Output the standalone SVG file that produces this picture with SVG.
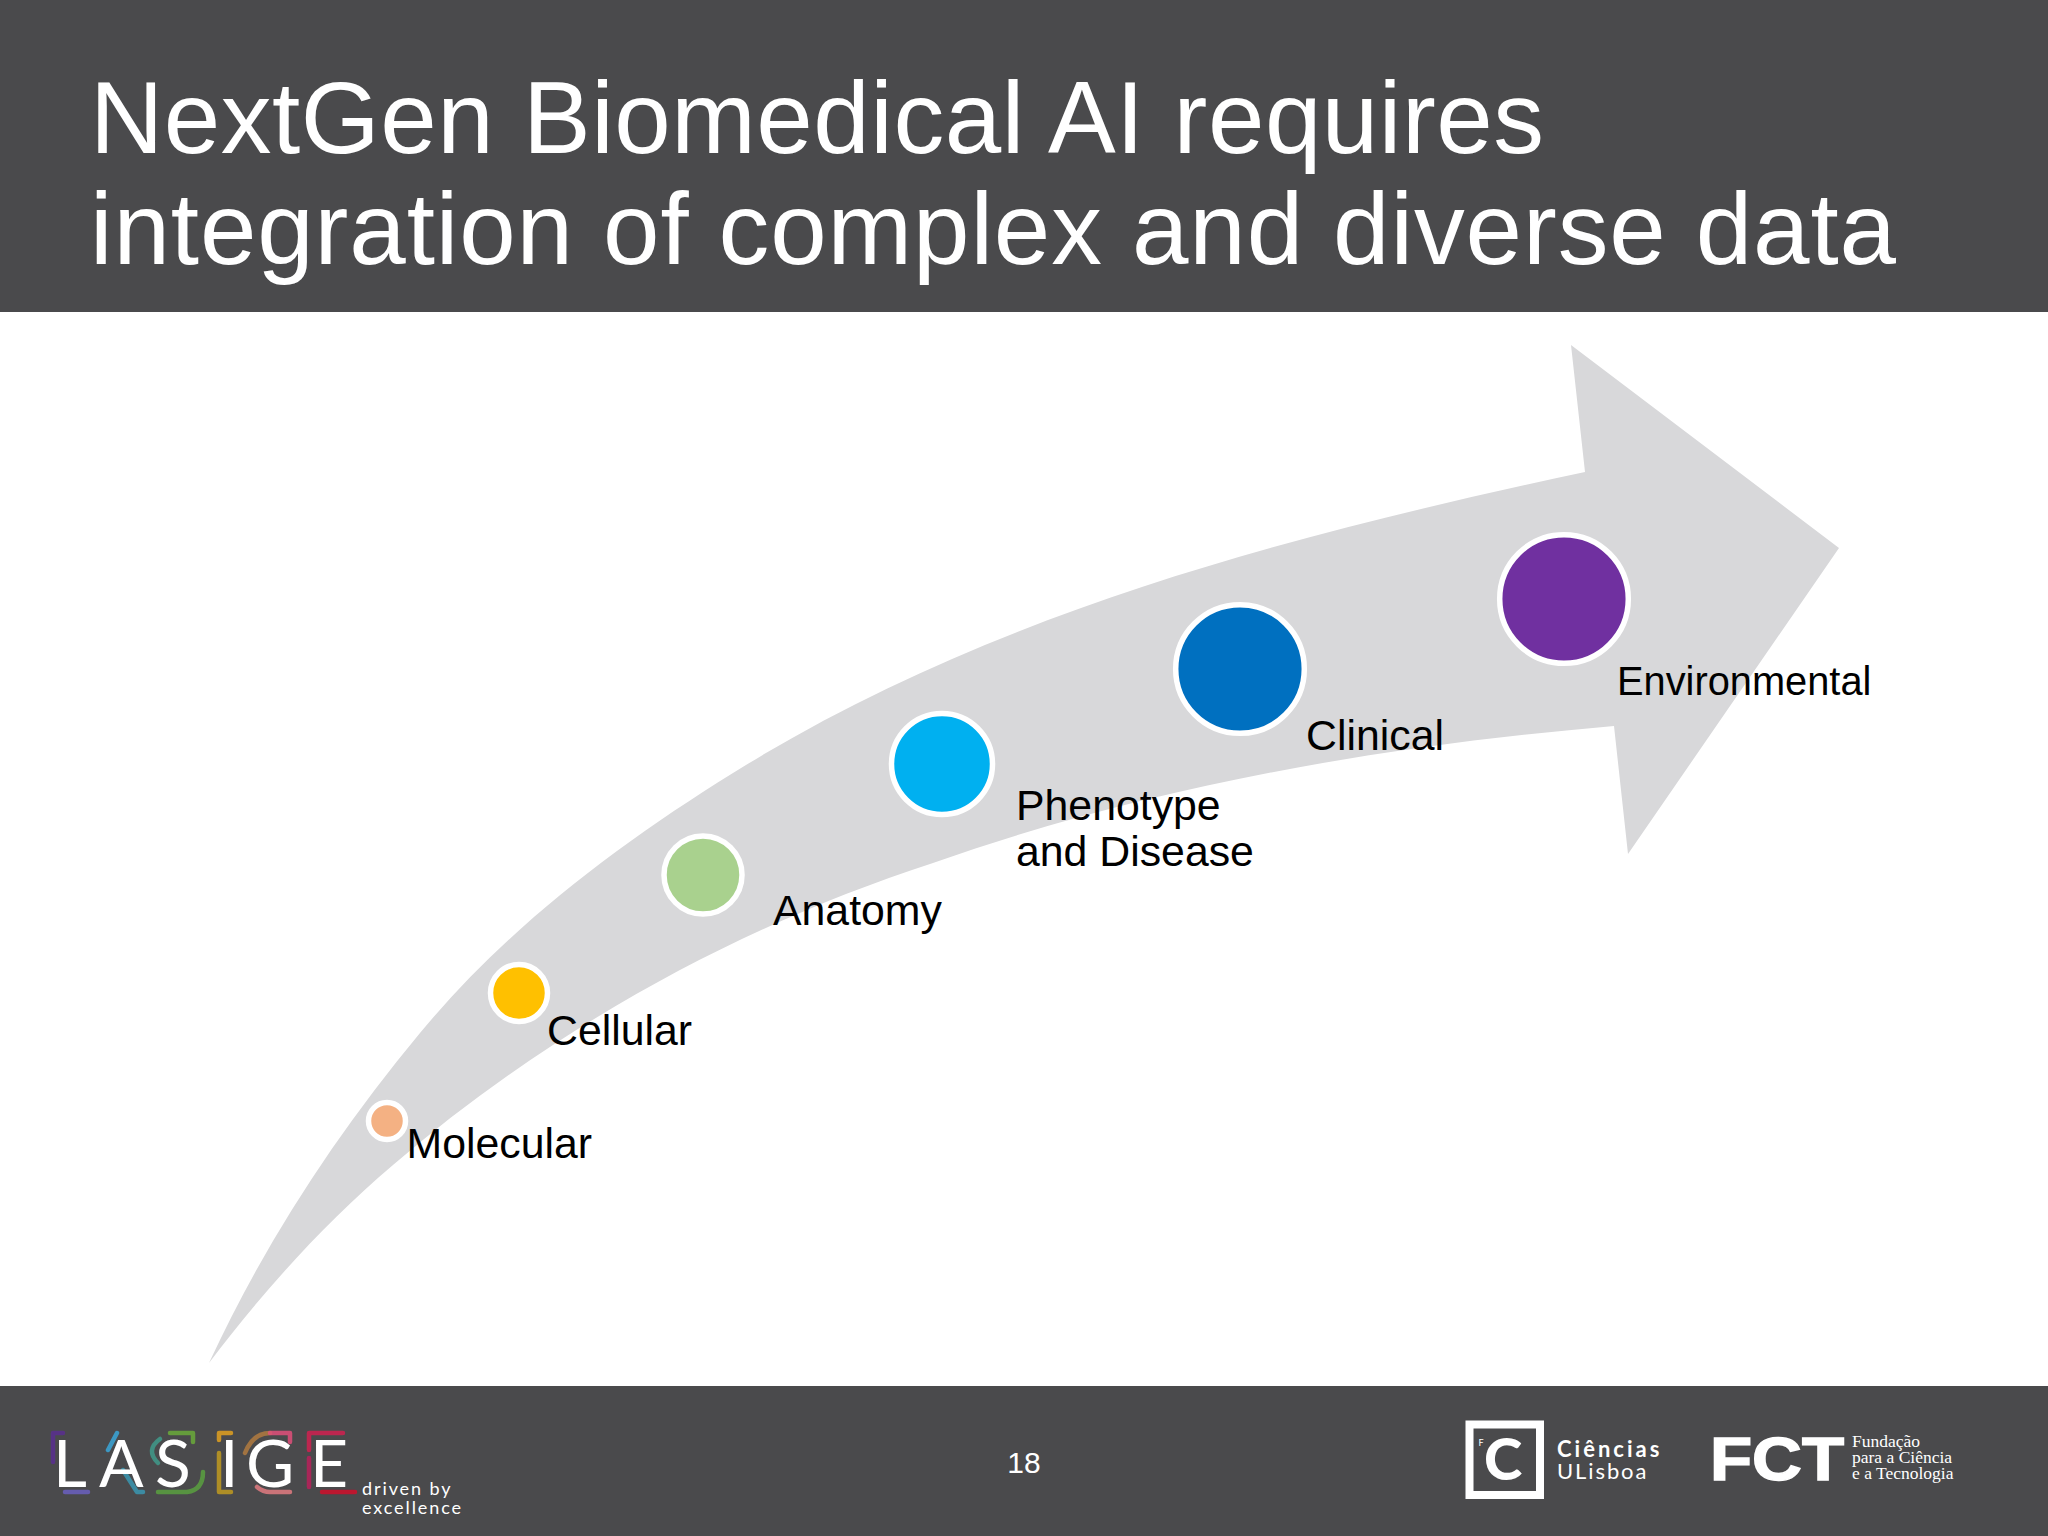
<svg xmlns="http://www.w3.org/2000/svg" width="2048" height="1536" viewBox="0 0 2048 1536">
<defs>
<style>
.bar{fill:#4a4a4c}
.title{font-family:"Liberation Sans",Arial,sans-serif;font-size:101.5px;fill:#fff}
.lbl{font-family:"Liberation Sans",Arial,sans-serif;font-size:42.8px;fill:#000}
.dot{stroke:#fff;stroke-width:5.5}
.acc{fill:none;stroke-width:4.5;stroke-linecap:round;stroke-linejoin:round;opacity:.85}
.lato{font-family:Lato,"Open Sans",sans-serif;fill:#fff}
</style>
<filter id="soft" x="-5%" y="-5%" width="110%" height="110%"><feGaussianBlur stdDeviation="0.7"/></filter>
</defs>
<rect width="2048" height="1536" fill="#fff"/>
<rect class="bar" width="2048" height="312"/>
<rect class="bar" y="1386" width="2048" height="150"/>
<g id="title">
<text class="title" x="90" y="153" textLength="1454">NextGen Biomedical AI requires</text>
<text class="title" x="90" y="264" textLength="1806">integration of complex and diverse data</text>
</g>
<g id="connectors">
<path id="big-arrow" fill="#d8d8da" d="M209,1363 C264,1244 336,1134 420,1033 C507,928 617,845 733,773 C989,613 1291,535 1585,472 L1571,345 L1839,548 L1628,854 L1614,726 C1383,746 1153,785 933,863 C736,927 549,1031 393,1165 C326,1222 264,1290 209,1363 Z"/>
</g>
<g id="node-molecular"><circle class="dot" cx="387" cy="1121" r="18.5" fill="#f4b183"/><text class="lbl" x="406.5" y="1158">Molecular</text></g>
<g id="node-cellular"><circle class="dot" cx="519" cy="993" r="28.5" fill="#ffc000"/><text class="lbl" x="547" y="1045">Cellular</text></g>
<g id="node-anatomy"><circle class="dot" cx="703" cy="875" r="39" fill="#a9d18e"/><text class="lbl" x="773" y="925">Anatomy</text></g>
<g id="node-phenotype"><circle class="dot" cx="942" cy="764" r="50.5" fill="#00b0f0"/><text class="lbl" x="1016" y="820">Phenotype</text><text class="lbl" x="1016" y="866">and Disease</text></g>
<g id="node-clinical"><circle class="dot" cx="1240" cy="669" r="64.3" fill="#0070c0"/><text class="lbl" x="1306" y="750">Clinical</text></g>
<g id="node-environmental"><circle class="dot" cx="1564" cy="599" r="64.3" fill="#7030a0"/><text class="lbl" x="1617" y="695" style="font-size:39.8px">Environmental</text></g>
<text id="page" x="1024" y="1473" text-anchor="middle" font-family="Liberation Sans, Arial, sans-serif" font-size="30" fill="#fff">18</text>
<g id="logo-lasige">
<g filter="url(#soft)">
<path class="acc" stroke="#5b2f91" d="M63,1433 H53 V1462"/>
<path class="acc" stroke="#6a5fc0" d="M65,1492 H88"/>
<path class="acc" stroke="#3aa6d8" d="M108,1450 L117,1433"/>
<path class="acc" stroke="#3a96b0" d="M123,1470 L137,1492 H143"/>
<path class="acc" stroke="#3f9a8a" d="M160,1439 Q145,1450 158,1463"/>
<path class="acc" stroke="#6aaa3a" d="M170,1433 H193 V1442"/>
<path class="acc" stroke="#5aa040" d="M158,1492 H187 Q203,1490 203,1472"/>
<path class="acc" stroke="#e0a020" d="M231,1433 H219 V1440"/>
<path class="acc" stroke="#c09a20" d="M219,1453 V1492 H231"/>
<path class="acc" stroke="#b07a40" d="M245,1453 Q253,1433 270,1433"/>
<path class="acc" stroke="#e0507a" d="M270,1433 H290 V1442"/>
<path class="acc" stroke="#e07a80" d="M257,1487 Q263,1492 270,1492 H290"/>
<path class="acc" stroke="#d01e50" d="M309,1450 V1433 H343"/>
<path class="acc" stroke="#b81e5a" d="M309,1458 V1487"/>
<path class="acc" stroke="#d0102a" d="M322,1492 H355"/>
</g>
<text class="lato" y="1487" x="53 99 155 220 246 310" font-size="66" font-weight="400">LASIGE</text>
<text class="lato" x="362" y="1495" font-size="18" letter-spacing="1.9">driven by</text>
<text class="lato" x="362" y="1514" font-size="18" letter-spacing="1.9">excellence</text>
</g>
<g id="logo-ciencias">
<rect x="1469.5" y="1424.5" width="70.5" height="70.5" fill="none" stroke="#fff" stroke-width="8"/>
<text class="lato" x="1503" y="1480" text-anchor="middle" font-size="58" font-weight="900">C</text>
<text class="lato" x="1481" y="1446" text-anchor="middle" font-size="9">F</text>
<text class="lato" x="1557" y="1457" font-size="22" font-weight="700" letter-spacing="3">Ciências</text>
<text class="lato" x="1557" y="1479" font-size="22" letter-spacing="1.9">ULisboa</text>
</g>
<g id="logo-fct">
<text x="1710" y="1480" font-family="Liberation Sans, Arial, sans-serif" font-weight="700" font-size="61" fill="#fff" stroke="#fff" stroke-width="1.5" textLength="134" lengthAdjust="spacingAndGlyphs">FCT</text>
<g font-family="Liberation Serif, Times New Roman, serif" font-size="17.5" fill="#fff">
<text x="1852" y="1447">Fundação</text>
<text x="1852" y="1463">para a Ciência</text>
<text x="1852" y="1479">e a Tecnologia</text>
</g>
</g>
</svg>
